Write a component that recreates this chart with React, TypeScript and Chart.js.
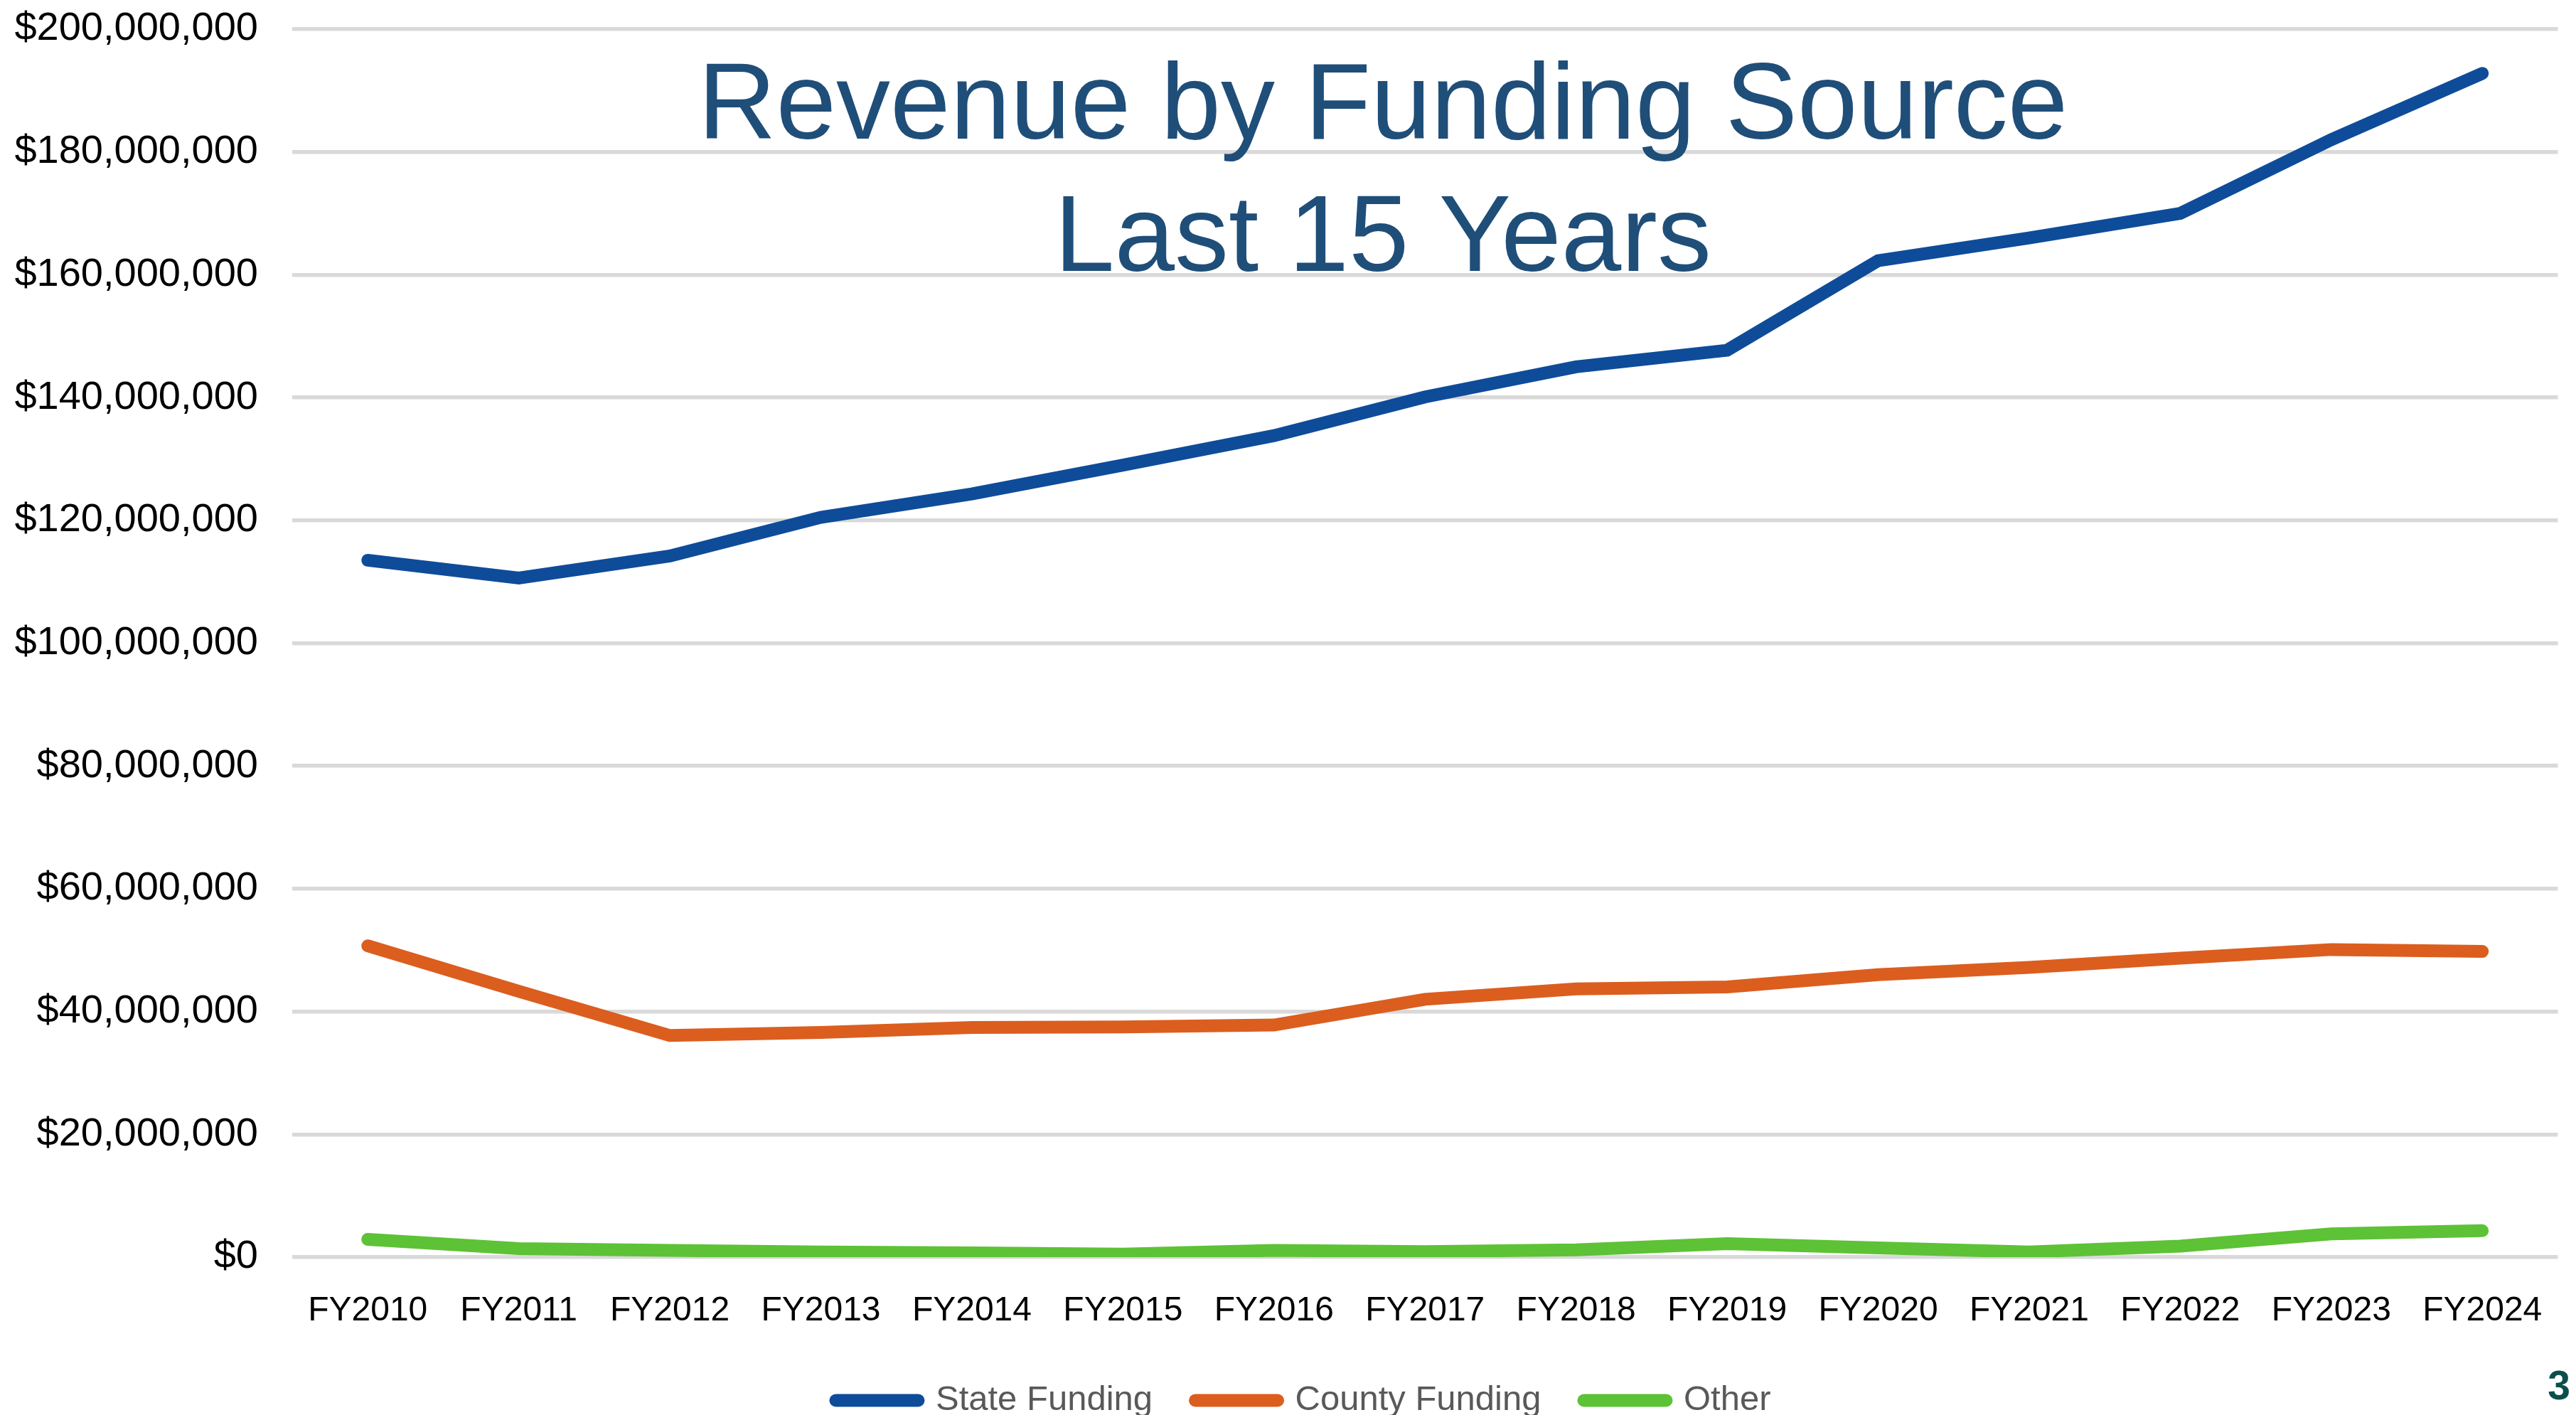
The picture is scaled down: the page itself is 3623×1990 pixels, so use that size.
import React, { useEffect, useRef } from "react";
import { Chart, registerables } from "chart.js";

Chart.register(...registerables);

const categories = [
  "FY2010", "FY2011", "FY2012", "FY2013", "FY2014", "FY2015", "FY2016", "FY2017",
  "FY2018", "FY2019", "FY2020", "FY2021", "FY2022", "FY2023", "FY2024",
];
const stateFunding = [
  113500000, 110600000, 114200000, 120500000, 124300000, 129000000, 133800000, 140100000,
  145000000, 147700000, 162300000, 166000000, 170000000, 182000000, 192800000,
];
const countyFunding = [
  50700000, 43300000, 36100000, 36600000, 37400000, 37500000, 37800000, 42000000,
  43700000, 44000000, 46000000, 47200000, 48700000, 50100000, 49800000,
];
const otherFunding = [
  2900000, 1400000, 1100000, 850000, 700000, 500000, 1100000, 900000,
  1200000, 2200000, 1500000, 850000, 1800000, 3800000, 4300000,
];
const seriesNames = ["State Funding", "County Funding", "Other"];
const seriesColors = ["#0E4C9A", "#DB5E1F", "#5DC236"];
const yMin = 0;
const yMax = 200000000;
const yStep = 20000000;
const titleLines = ["Revenue by Funding Source", "Last 15 Years"];
const pageNumber = "3";

const FONT = '"Liberation Sans", Arial, sans-serif';
const LINE_W = 18;

export default function App() {
  const ref = useRef<HTMLCanvasElement>(null);

  useEffect(() => {
    if (!ref.current) return;
    const overlay = {
      id: "overlay",
      afterLayout(chart: any) {
        if (chart.legend) {
          chart.legend.left += 32;
          chart.legend.right += 32;
        }
      },
      afterDraw(chart: any) {
        const ctx = chart.ctx as CanvasRenderingContext2D;
        ctx.save();
        ctx.fillStyle = "#1F4E79";
        ctx.font = `152px ${FONT}`;
        ctx.textAlign = "center";
        ctx.textBaseline = "alphabetic";
        ctx.fillText(titleLines[0], 1945, 195);
        ctx.fillText(titleLines[1], 1945, 381);
        ctx.fillStyle = "#0B4F4C";
        ctx.font = `bold 57px ${FONT}`;
        ctx.textAlign = "right";
        ctx.fillText(pageNumber, 3615, 1968);
        ctx.restore();
      },
    };

    const common = {
      borderWidth: LINE_W,
      pointRadius: 0,
      pointHoverRadius: 0,
      pointBorderWidth: LINE_W,
      tension: 0,
      fill: false,
      borderCapStyle: "round" as const,
      borderJoinStyle: "miter" as const,
    };

    const datasets = [stateFunding, countyFunding, otherFunding].map((d, i) => ({
      label: seriesNames[i],
      data: d,
      borderColor: seriesColors[i],
      backgroundColor: seriesColors[i],
      pointBackgroundColor: seriesColors[i],
      pointBorderColor: seriesColors[i],
      ...common,
    }));

    const baseGen = (Chart as any).defaults.plugins.legend.labels.generateLabels;

    const chart = new Chart(ref.current, {
      type: "line",
      data: { labels: categories, datasets },
      options: {
        responsive: true,
        maintainAspectRatio: false,
        animation: false,
        layout: { padding: { top: 41, right: 21, left: 0, bottom: 0 } },
        scales: {
          x: {
            offset: true,
            grid: { display: false, drawTicks: false },
            border: { display: false },
            ticks: {
              padding: 47,
              color: "#000000",
              font: { family: FONT, size: 48 },
              maxRotation: 0,
              autoSkip: false,
            },
            afterFit(s: any) {
              s.height = 117;
            },
          },
          y: {
            min: yMin,
            max: yMax,
            ticks: {
              stepSize: yStep,
              padding: 0,
              color: "#000000",
              font: { family: FONT, size: 56 },
              callback: (v: any) => "$" + Number(v).toLocaleString("en-US"),
            },
            grid: {
              color: "#D9D9D9",
              lineWidth: 5.5,
              drawTicks: true,
              tickLength: 48,
              tickColor: "rgba(0,0,0,0)",
            },
            border: { display: false },
            afterFit(s: any) {
              s.width = 411;
            },
          },
        },
        plugins: {
          legend: {
            position: "bottom",
            labels: {
              usePointStyle: true,
              pointStyle: "line",
              pointStyleWidth: 116,
              padding: 60,
              color: "#595959",
              font: { family: FONT, size: 49 },
              generateLabels(c: any) {
                return baseGen(c).map((it: any, i: number) => ({
                  ...it,
                  lineWidth: LINE_W,
                  lineCap: "round",
                  strokeStyle: seriesColors[i],
                  fillStyle: seriesColors[i],
                  pointStyle: "line",
                }));
              },
            },
          },
          tooltip: { enabled: false },
        },
      },
      plugins: [overlay],
    });
    return () => chart.destroy();
  }, []);

  return (
    <div
      style={{
        position: "fixed",
        left: 0,
        top: 0,
        width: 3623,
        height: 1990,
        overflow: "hidden",
        background: "#ffffff",
      }}
    >
      <div style={{ position: "relative", width: 3623, height: 2004 }}>
        <canvas ref={ref} />
      </div>
    </div>
  );
}
